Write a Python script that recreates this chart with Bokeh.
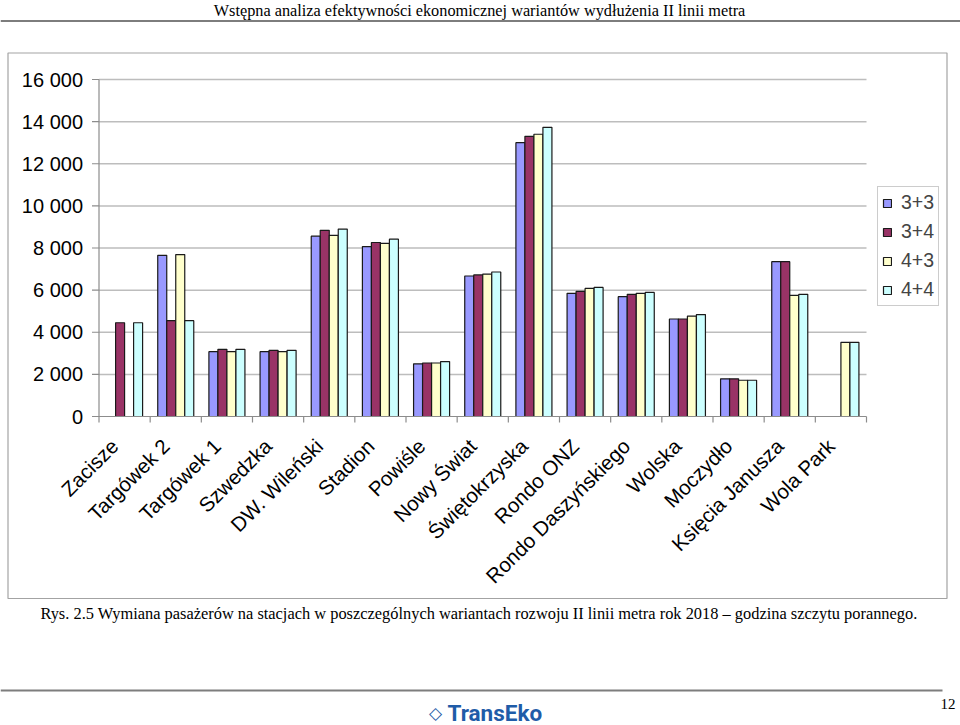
import math
import numpy as np
from bokeh.plotting import figure
from bokeh.models import ColumnDataSource, Range1d, Legend, LegendItem
from bokeh.core.properties import value
from bokeh.embed import file_html
from bokeh.resources import INLINE

# ---------------- data ----------------
stations = ["Zacisze", "Targówek 2", "Targówek 1", "Szwedzka", "DW. Wileński", "Stadion",
            "Powiśle", "Nowy Świat", "Świętokrzyska", "Rondo ONZ", "Rondo Daszyńskiego",
            "Wolska", "Moczydło", "Księcia Janusza", "Wola Park"]
series = ["3+3", "3+4", "4+3", "4+4"]
v33 = [None, 7650, 3080, 3080, 8560, 8070, 2500, 6670, 13000, 5850, 5690, 4630, 1790, 7350, None]
v34 = [4450, 4550, 3190, 3140, 8840, 8260, 2540, 6720, 13300, 5940, 5800, 4630, 1790, 7350, None]
v43 = [None, 7690, 3080, 3080, 8600, 8220, 2540, 6760, 13400, 6080, 5850, 4770, 1720, 5750, 3520]
v44 = [4450, 4550, 3190, 3140, 8900, 8420, 2610, 6860, 13730, 6130, 5890, 4840, 1720, 5800, 3520]
y_ticks = [0, 2000, 4000, 6000, 8000, 10000, 12000, 14000, 16000]
y_labels = ["0", "2 000", "4 000", "6 000", "8 000", "10 000", "12 000", "14 000", "16 000"]
y_max = 16000

header_text = "Wstępna analiza efektywności ekonomicznej wariantów wydłużenia II linii metra"
caption_text = ("Rys. 2.5 Wymiana pasażerów na stacjach w poszczególnych wariantach rozwoju "
                "II linii metra rok 2018 \u2013 godzina szczytu porannego.")
logo_text = "TransEko"
logo_mark = "\u25c7"
page_no = "12"

colors = ["#9999FF", "#993366", "#FFFFCC", "#CCFFFF"]
FRAME_COL = "#a3a3a3"
RULE_COL = "#7d7d7d"
AXIS_COL = "#8c8c8c"
GRID_COL = "#bdbdbd"
LOGO_COL = "#1f5ca8"

# ---------------- page geometry (pixels) ----------------
W, H = 960, 725
PL, PR = 98.5, 866.0       # plot area left / right
PT, PB = 79.0, 416.0       # plot area top / bottom
n = len(stations)
u = (PR - PL) / n          # px per category
s = (PB - PT) / y_max      # px per passenger


def dx(px):
    return px / u


def dy(px):
    return px / s


p = figure(width=W, height=H,
           x_range=Range1d(-dx(PL), dx(W - PL)),
           y_range=Range1d(-dy(H - PB), dy(PB)),
           x_axis_type=None, y_axis_type=None,
           output_backend="svg", toolbar_location=None, min_border=0)
p.outline_line_color = None
p.background_fill_color = "white"
p.border_fill_color = "white"
p.grid.visible = False
# page-pixel coordinates for the document decorations
p.extra_x_ranges = {"px": Range1d(0, W)}
p.extra_y_ranges = {"px": Range1d(H, 0)}
PX = dict(x_range_name="px", y_range_name="px")

# ---------------- gridlines ----------------
grid_src = ColumnDataSource(dict(y=y_ticks[1:]))
p.segment(x0=0, x1=n, y0="y", y1="y", source=grid_src, line_color=GRID_COL, line_width=1.5)

# ---------------- bars ----------------
idx = np.arange(n)
bw = 0.176
renderers = []
for k, (vals, col) in enumerate(zip([v33, v34, v43, v44], colors)):
    src = ColumnDataSource(dict(x=idx + 0.5 + (k - 1.5) * bw,
                                top=[np.nan if v is None else v for v in vals]))
    r = p.vbar(x="x", top="top", bottom=0, width=bw, source=src,
               fill_color=col, line_color="#1a1a1a", line_width=1.2)
    renderers.append(r)

# ---------------- axes ----------------
# y axis line, ticks, labels
p.segment(x0=0, y0=0, x1=0, y1=y_max, line_color=AXIS_COL, line_width=1.2)
ytick_src = ColumnDataSource(dict(y=y_ticks, label=y_labels))
p.segment(x0=-dx(7), x1=0, y0="y", y1="y", source=ytick_src, line_color=AXIS_COL, line_width=1.2)
p.text(x=-dx(16), y="y", text="label", source=ytick_src, text_align="right",
       text_baseline="middle", text_font=value("Liberation Sans"), text_font_size="20px",
       text_color="black")

# x axis line, boundary ticks, rotated category labels
p.segment(x0=0, y0=0, x1=n, y1=0, line_color=AXIS_COL, line_width=1.2)
bound_src = ColumnDataSource(dict(x=list(range(n + 1))))
p.segment(x0="x", x1="x", y0=0, y1=-dy(6), source=bound_src, line_color=AXIS_COL, line_width=1.2)
xlab_src = ColumnDataSource(dict(x=idx + 0.5 - dx(10), name=stations))
p.text(x="x", y=-dy(26), text="name", source=xlab_src, angle=math.pi / 4,
       text_align="right", text_baseline="middle",
       text_font=value("Liberation Sans"), text_font_size="20.5px", text_color="black")

# ---------------- legend ----------------
legend = Legend(items=[LegendItem(label=sn, renderers=[r]) for sn, r in zip(series, renderers)],
                location=(877, H - 306),
                border_line_color="#9a9a9a", border_line_width=1,
                padding=4, spacing=6, margin=0,
                label_height=21, glyph_height=10, glyph_width=10, label_standoff=9,
                label_text_font="Liberation Sans", label_text_font_size="19.5px",
                background_fill_color="white", background_fill_alpha=1)
p.add_layout(legend)

# ---------------- document decorations (page pixels) ----------------
p.segment(x0=0, y0=20.5, x1=W, y1=20.5, line_color=RULE_COL, line_width=2, **PX)
p.quad(left=7.5, right=946.5, top=52.5, bottom=598, fill_alpha=0, line_color=FRAME_COL,
       line_width=1.2, level="underlay", **PX)
p.segment(x0=0, y0=690, x1=942, y1=690, line_color=RULE_COL, line_width=2, **PX)

p.text(x=[479], y=[10], text=[header_text], text_align="center", text_baseline="middle",
       text_font=value("Liberation Serif"), text_font_size="16.3px", text_color="black", **PX)
p.text(x=[478.5], y=[612.5], text=[caption_text], text_align="center", text_baseline="middle",
       text_font=value("Liberation Serif"), text_font_size="16.4px", text_color="black", **PX)
p.text(x=[447], y=[712.5], text=[logo_text], text_align="left", text_baseline="middle",
       text_font=value("Roboto"), text_font_style="bold", text_font_size="22.5px",
       text_color=LOGO_COL, **PX)
p.text(x=[435], y=[712.5], text=[logo_mark], text_align="center", text_baseline="middle",
       text_font=value("DejaVu Sans"), text_font_style="bold", text_font_size="17px",
       text_color=LOGO_COL, **PX)
p.text(x=[947.5], y=[703], text=[page_no], text_align="center", text_baseline="middle",
       text_font=value("Liberation Serif"), text_font_size="15px", text_color="black", **PX)

open("out.html", "w").write(file_html(p, INLINE))
